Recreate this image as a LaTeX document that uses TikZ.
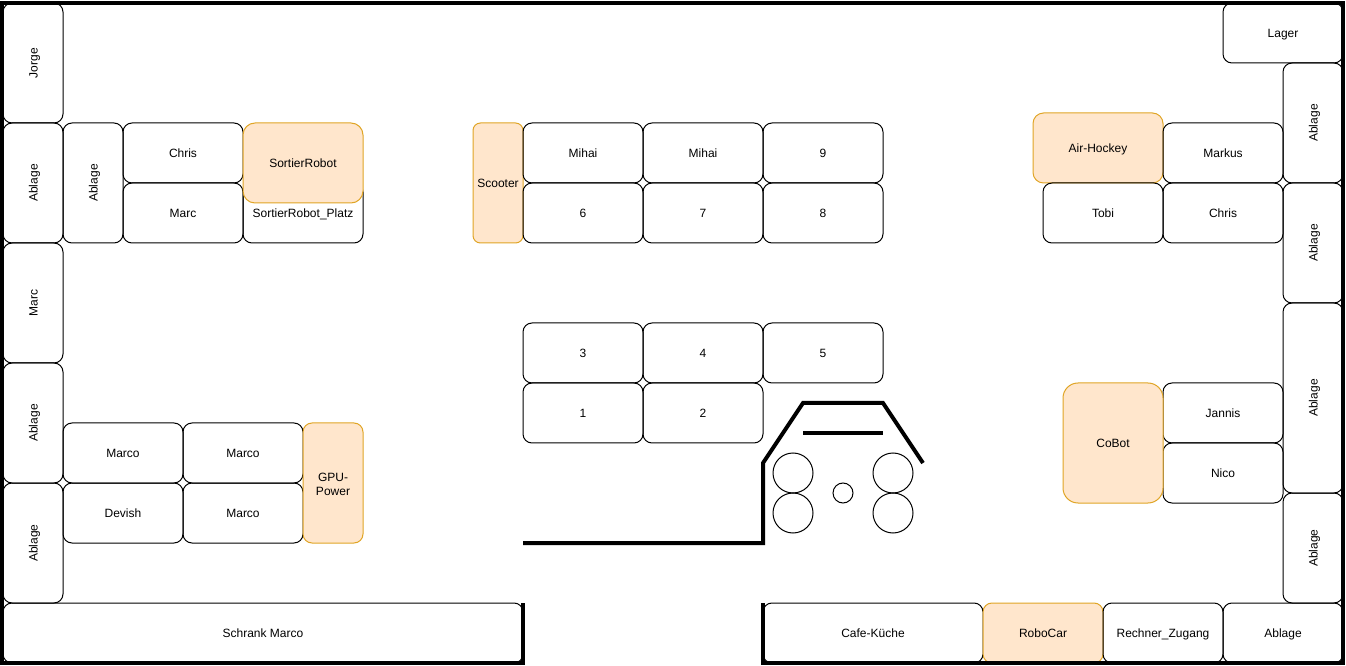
\documentclass[tikz,border=0pt]{standalone}
\usepackage{fontspec}
\setmainfont{Liberation Sans}
\usetikzlibrary{positioning}
\definecolor{benchfill}{HTML}{FFE6CC}
\definecolor{benchline}{HTML}{E0A526}

\begin{document}
\begin{tikzpicture}[x=0.75pt, y=-0.75pt, node distance=0pt,
          every node/.style={font=\fontsize{9}{11}\selectfont, align=center,
                      outer sep=0pt, inner sep=0pt},
          box/.style={draw, line width=0.75pt, rounded corners=6.75pt,
                      text height=8.2pt, text depth=1.4pt},
          desk/.style={box, minimum width=90pt, minimum height=45pt},
          shelf/.style={box, rotate=90, minimum height=45pt},
          project/.style={box, draw=benchline, fill=benchfill},
          stool/.style={draw, line width=0.75pt, circle, minimum size=30pt},
          wall/.style={line width=3pt}]
        \useasboundingbox (0,0) rectangle (1346,666);
        % left wall
        \node[shelf, minimum width=90pt] (jorge)   at (33,63)  {Jorge};
        \node[shelf, minimum width=90pt] (ablageA) at (33,183) {Ablage};
        \node[shelf, minimum width=90pt] (marcL)   at (33,303) {Marc};
        \node[shelf, minimum width=90pt] (ablageB) at (33,423) {Ablage};
        \node[shelf, minimum width=90pt] (ablageC) at (33,543) {Ablage};
        % top left group
        \node[shelf, minimum width=90pt] (ablageD) at (93,183) {Ablage};
        \node[desk, anchor=north west]  (chrisL) at (123,123) {Chris};
        \node[desk, below=of chrisL]    (marcD)  {Marc};
        \node[desk, right=of marcD]     (platz)  {SortierRobot\_Platz};
        \node[project, anchor=north west, minimum width=90pt, minimum height=60pt,
              rounded corners=9pt] (sortier) at (243,123) {SortierRobot};
        % bottom left group
        \node[desk, anchor=north west]  (marcoA) at (63,423) {Marco};
        \node[desk, right=of marcoA]    (marcoB) {Marco};
        \node[desk, below=of marcoA]    (devish) {Devish};
        \node[desk, right=of devish]    (marcoC) {Marco};
        \node[project, anchor=north west, minimum width=45pt, minimum height=90pt,
              text height=, text depth=, rounded corners=6.75pt] (gpu) at (303,423) {\rule{0pt}{8.1pt}GPU-\\Power};
        % middle rows
        \node[project, anchor=north west, minimum width=37.5pt, minimum height=90pt,
              rounded corners=5.6pt] (scooter) at (473,123) {Scooter};
        \node[desk, anchor=north west]  (mihaiA) at (523,123) {Mihai};
        \node[desk, right=of mihaiA]    (mihaiB) {Mihai};
        \node[desk, right=of mihaiB]    (nine)   {9};
        \node[desk, below=of mihaiA]    (six)    {6};
        \node[desk, right=of six]       (seven)  {7};
        \node[desk, right=of seven]     (eight)  {8};
        \node[desk, anchor=north west]  (three)  at (523,323) {3};
        \node[desk, right=of three]     (four)   {4};
        \node[desk, right=of four]      (five)   {5};
        \node[desk, below=of three]     (one)    {1};
        \node[desk, right=of one]       (two)    {2};
        % top right group
        \node[project, anchor=north west, minimum width=97.5pt, minimum height=52.5pt,
              rounded corners=7.9pt] (hockey) at (1033,113) {Air-Hockey};
        \node[desk, anchor=north west]  (markus) at (1163,123) {Markus};
        \node[desk, below=of markus]    (chrisR) {Chris};
        \node[desk, left=of chrisR]     (tobi)   {Tobi};
        % bottom right group
        \node[desk, anchor=north west]  (jannis) at (1163,383) {Jannis};
        \node[desk, below=of jannis]    (nico)   {Nico};
        \node[project, anchor=north west, minimum width=75pt, minimum height=90pt,
              rounded corners=11.25pt] (cobot) at (1063,383) {CoBot};
        % right wall
        \node[desk, anchor=north west]   (lager)   at (1223,3) {Lager};
        \node[shelf, minimum width=90pt]    (ablageE) at (1313,123) {Ablage};
        \node[shelf, minimum width=90pt]    (ablageF) at (1313,243) {Ablage};
        \node[shelf, minimum width=142.5pt] (ablageG) at (1313,398) {Ablage};
        \node[shelf, minimum width=82.5pt]  (ablageH) at (1313,548) {Ablage};
        % bottom wall
        \node[desk, anchor=north west, minimum width=390pt] (schrank) at (3,603) {Schrank Marco};
        \node[desk, anchor=north west, minimum width=165pt] (cafe)    at (763,603) {Cafe-Küche};
        \node[project, right=of cafe, minimum width=90pt, minimum height=45pt] (robocar) {RoboCar};
        \node[desk, right=of robocar]  (rechner) {Rechner\_Zugang};
        \node[desk, right=of rechner]  (ablageI) {Ablage};
        % stools
        \node[stool] (stoolA) at (793,473) {};
        \node[stool] (stoolB) at (793,513) {};
        \node[stool] (stoolC) at (893,473) {};
        \node[stool] (stoolD) at (893,513) {};
        \node[stool, minimum size=15pt] (stoolE) at (843,493) {};
        % walls
        \draw[wall] (523,603) -- (523,663) -- (2,663) -- (2,3) -- (1343,3) -- (1343,663)
              -- (763,663) -- (763,603);
        \draw[wall] (523,543) -- (763,543) -- (763,463) -- (803,403) -- (883,403) -- (923,463);
        \draw[wall] (803,433) -- (883,433);
      \end{tikzpicture}
\end{document}
